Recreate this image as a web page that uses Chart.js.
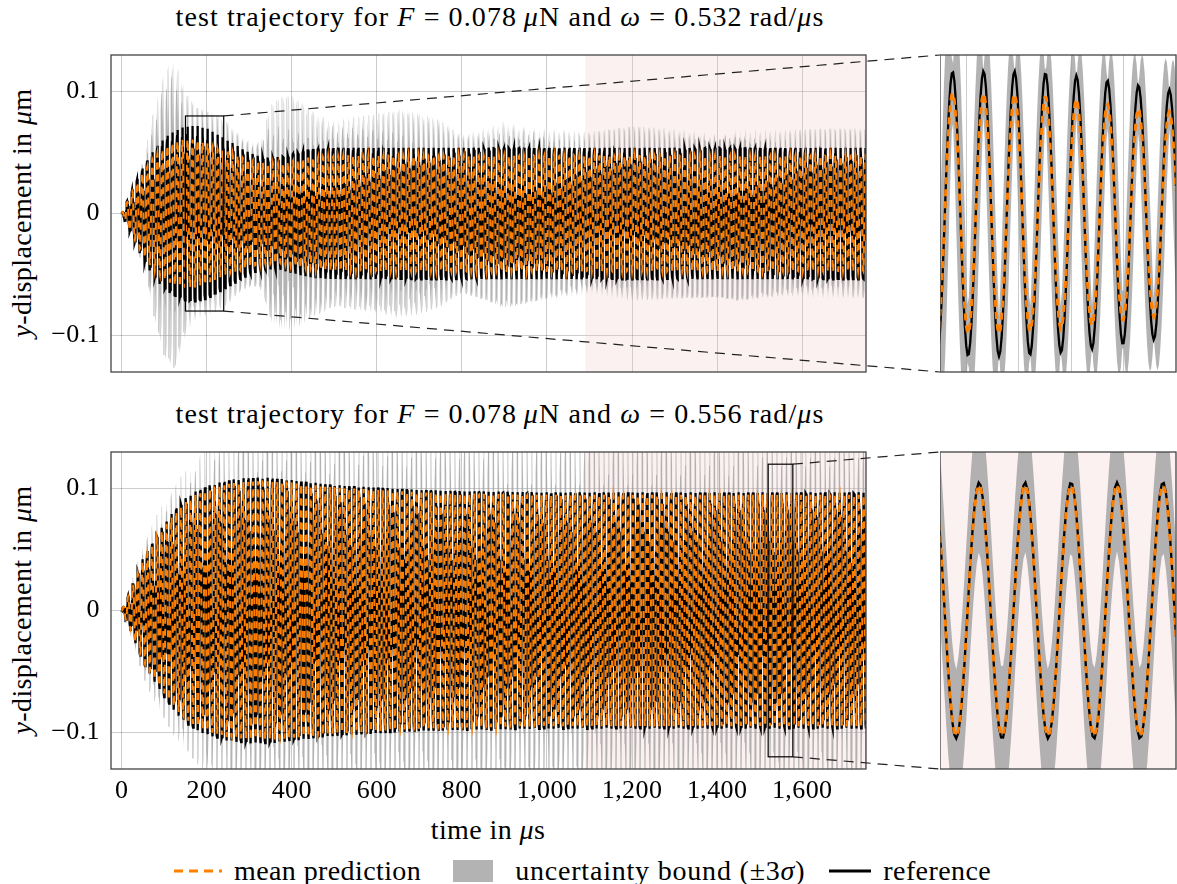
<!DOCTYPE html>
<html>
<head>
<meta charset="utf-8">
<script src="https://cdn.jsdelivr.net/npm/chart.js@4.4.0/dist/chart.umd.min.js"></script>
<style>
  body { margin: 0; background: #fff; }
  #fig { position: relative; width: 1177px; height: 884px; font-family: 'Liberation Serif', serif; font-size: 28px; color: #000; letter-spacing: 0.4px; }
  #fig canvas { position: absolute; }
  .txt { position: absolute; white-space: nowrap; line-height: 30px; }
  .ttl { left: 0; width: 1000px; text-align: center; letter-spacing: 1.1px; }
  .ylab { left: 22px; transform: translate(-50%, -50%) rotate(-90deg); }
  .legend { position: absolute; left: 172px; top: 856px; display: flex; align-items: center; white-space: nowrap; line-height: 30px; }
  .legend svg { display: block; }
</style>
</head>
<body>
<div id="fig">
  <div class="txt ttl" style="top:2px">test trajectory for <i>F</i> = 0.078&#8201;<i>μ</i>N and <i>ω</i> = 0.532&#8201;rad/<i>μ</i>s</div>
  <div class="txt ttl" style="top:399px">test trajectory for <i>F</i> = 0.078&#8201;<i>μ</i>N and <i>ω</i> = 0.556&#8201;rad/<i>μ</i>s</div>
  <div class="txt ylab" style="top:213px"><i>y</i>-displacement in <i>μ</i>m</div>
  <div class="txt ylab" style="top:610px"><i>y</i>-displacement in <i>μ</i>m</div>
  <div class="txt" style="left:488px; top:815px; transform:translateX(-50%)">time in <i>μ</i>s</div>

  <canvas id="topMain" width="940" height="380" style="left:0;top:0"></canvas>
  <canvas id="topZoom" width="237" height="380" style="left:940px;top:0"></canvas>
  <canvas id="botMain" width="940" height="410" style="left:0;top:400px"></canvas>
  <canvas id="botZoom" width="237" height="410" style="left:940px;top:400px"></canvas>

  <div class="legend">
    <svg width="50" height="10"><line x1="2" y1="5" x2="50" y2="5" stroke="#ff8000" stroke-width="3" stroke-dasharray="9,6"/></svg>
    <span style="margin-left:12px">mean prediction</span>
    <svg width="40" height="22" style="margin-left:32px"><rect x="0" y="0" width="40" height="22" fill="#b3b3b3"/></svg>
    <span style="margin-left:22px; letter-spacing:0.8px">uncertainty bound (±3<i>σ</i>)</span>
    <svg width="42" height="10" style="margin-left:24px"><line x1="0" y1="5" x2="42" y2="5" stroke="#000" stroke-width="3"/></svg>
    <span style="margin-left:12px">reference</span>
  </div>
</div>

<script>
// ---- data ----
const xTicks = [0, 200, 400, 600, 800, 1000, 1200, 1400, 1600];
const yTicks = [-0.1, 0, 0.1];
const zoomGridTop = [160, 180, 200, 220];
const shadeStart = 1090; // shaded test region starts here (µs)

// drive frequencies from the titles (rad/µs) and carrier phase
const omegaTop = 0.532;
const omegaBot = 0.556;
const phaseTop = 0.90;
const phaseBot = -0.66;

// envelopes for the upper panel (µm)
const knotsTop = [0, 25, 50, 75, 100, 125, 150, 175, 200, 225, 250, 275, 300, 325, 350, 375, 400, 425, 450, 500,
  550, 600, 650, 700, 750, 800, 850, 900, 1000, 1100, 1200, 1300, 1400, 1450, 1550, 1650, 1750];
const refAmpTop = [0, 0.020, 0.038, 0.052, 0.062, 0.068, 0.0715, 0.0722, 0.070, 0.065, 0.060, 0.055, 0.050, 0.047, 0.046, 0.0465, 0.049, 0.051, 0.053, 0.054,
  0.054, 0.054, 0.054, 0.054, 0.054, 0.054, 0.054, 0.054, 0.054, 0.054, 0.054, 0.054, 0.054, 0.054, 0.054, 0.054, 0.054];
const meanAmpTop = [0, 0.018, 0.034, 0.046, 0.054, 0.059, 0.061, 0.0605, 0.058, 0.053, 0.050, 0.047, 0.044, 0.042, 0.041, 0.041, 0.043, 0.045, 0.046, 0.047,
  0.0475, 0.0475, 0.0475, 0.0475, 0.0475, 0.0475, 0.0475, 0.0475, 0.0475, 0.0475, 0.0475, 0.0475, 0.0475, 0.0475, 0.0475, 0.0475, 0.0475];
// 3 sigma where the mean crosses zero / at the mean's peaks
const crossBandTop = [0, 0.005, 0.017, 0.060, 0.095, 0.105, 0.070, 0.052, 0.050, 0.050, 0.045, 0.034, 0.028, 0.031, 0.070, 0.078, 0.078, 0.070, 0.062, 0.050,
  0.054, 0.057, 0.062, 0.058, 0.050, 0.032, 0.041, 0.051, 0.041, 0.035, 0.043, 0.040, 0.038, 0.043, 0.038, 0.040, 0.040];
const peakBandTop = [0, 0.002, 0.005, 0.008, 0.008, 0.008, 0.008, 0.008, 0.008, 0.008, 0.008, 0.008, 0.008, 0.008, 0.008, 0.008, 0.008, 0.008, 0.008, 0.008,
  0.008, 0.008, 0.008, 0.008, 0.008, 0.008, 0.008, 0.008, 0.008, 0.008, 0.008, 0.008, 0.008, 0.008, 0.008, 0.008, 0.008];

// envelopes for the lower panel (µm)
const knotsBot = [0, 25, 50, 75, 100, 125, 150, 175, 200, 250, 300, 350, 400, 450, 500, 600, 700, 800, 1000, 1200, 1400, 1600, 1750];
const refAmpBot = [0, 0.020, 0.043, 0.057, 0.071, 0.083, 0.092, 0.098, 0.102, 0.107, 0.109, 0.109, 0.107, 0.105, 0.103, 0.101, 0.099, 0.098, 0.097, 0.097, 0.097, 0.097, 0.097];
const meanAmpBot = [0, 0.019, 0.041, 0.055, 0.068, 0.080, 0.089, 0.095, 0.099, 0.104, 0.106, 0.106, 0.105, 0.103, 0.101, 0.099, 0.097, 0.096, 0.095, 0.095, 0.095, 0.095, 0.095];
const crossBandBot = [0, 0.002, 0.004, 0.006, 0.008, 0.009, 0.010, 0.011, 0.012, 0.014, 0.016, 0.016, 0.016, 0.016, 0.016, 0.016, 0.016, 0.016, 0.016, 0.016, 0.016, 0.016, 0.016];
const peakBandBot = [0, 0.006, 0.013, 0.018, 0.021, 0.023, 0.025, 0.029, 0.035, 0.042, 0.048, 0.050, 0.050, 0.050, 0.050, 0.050, 0.050, 0.050, 0.050, 0.050, 0.050, 0.050, 0.050];

// zoom windows [t0, t1, yMin, yMax]
const zoomTop = [150, 240, -0.08, 0.08];
const zoomBot = [1520, 1578, -0.12, 0.12];

const dt = 0.5;
const tEnd = 1750;

// ---- helpers ----
function envAt(knots, vals, t) {
    let i = 1;
    while (i < knots.length - 1 && knots[i] < t) i++;
    const f = (t - knots[i - 1]) / (knots[i] - knots[i - 1]);
    return vals[i - 1] + f * (vals[i] - vals[i - 1]);
}

function buildSeries(knots, refAmp, meanAmp, crossBand, peakBand, omega, phase) {
    const ref = [], mean = [], upper = [], lower = [];
    for (let t = 0; t <= tEnd + 1e-9; t += dt) {
        const th = omega * t + phase;
        const s = Math.sin(th);
        const m = envAt(knots, meanAmp, t) * s;
        const band = envAt(knots, crossBand, t) * Math.abs(Math.cos(th)) + envAt(knots, peakBand, t);
        ref.push({ x: t, y: envAt(knots, refAmp, t) * s });
        mean.push({ x: t, y: m });
        upper.push({ x: t, y: m + band });
        lower.push({ x: t, y: m - band });
    }
    return { ref, mean, upper, lower };
}

const shadeColor = 'rgba(245, 200, 200, 0.25)';
const gridColor = 'rgba(0, 0, 0, 0.2)';

// background shade, frame and zoom box with connector lines
const framePlugin = {
    id: 'frame',
    beforeDatasetsDraw(chart) {
        const { ctx, chartArea: a, scales: { x } } = chart;
        const x0 = Math.max(a.left, x.getPixelForValue(shadeStart));
        if (x0 < a.right) {
            ctx.save();
            ctx.fillStyle = shadeColor;
            ctx.fillRect(x0, a.top, a.right - x0, a.bottom - a.top);
            ctx.restore();
        }
    },
    afterDraw(chart, args, opts) {
        const { ctx, chartArea: a, scales: { x, y } } = chart;
        ctx.save();
        ctx.strokeStyle = '#444';
        ctx.lineWidth = 1.3;
        ctx.strokeRect(a.left, a.top, a.right - a.left, a.bottom - a.top);
        if (opts.box) {
            const [t0, t1, y0, y1] = opts.box;
            const px0 = x.getPixelForValue(t0), px1 = x.getPixelForValue(t1);
            const pyTop = y.getPixelForValue(y1), pyBot = y.getPixelForValue(y0);
            ctx.strokeStyle = '#000';
            ctx.lineWidth = 1.2;
            ctx.strokeRect(px0, pyTop, px1 - px0, pyBot - pyTop);
            ctx.strokeStyle = '#222';
            ctx.setLineDash([10, 7]);
            ctx.beginPath();
            ctx.moveTo(px1, pyTop);
            ctx.lineTo(chart.width, a.top);
            ctx.moveTo(px1, pyBot);
            ctx.lineTo(chart.width, a.bottom);
            ctx.stroke();
        }
        ctx.restore();
    }
};

Chart.defaults.font.family = "'Liberation Serif', serif";
Chart.defaults.font.size = 26;
Chart.defaults.color = '#000';

function makeDatasets(series, meanWidth) {
    return [
        { label: 'mean prediction', data: series.mean, borderColor: '#ff8000', borderWidth: meanWidth, borderDash: [7, 5], fill: false },
        { label: 'reference', data: series.ref, borderColor: '#000', borderWidth: 2.3, fill: false },
        { label: 'uncertainty bound (±3σ)', data: series.upper, borderWidth: 0, borderColor: 'rgba(0,0,0,0)',
          backgroundColor: 'rgba(160,160,160,0.8)', fill: '+1' },
        { label: 'lower bound', data: series.lower, borderWidth: 0, borderColor: 'rgba(0,0,0,0)', fill: false }
    ];
}

function makeChart(id, series, cfg) {
    return new Chart(document.getElementById(id), {
        type: 'line',
        data: { datasets: makeDatasets(series, cfg.meanWidth) },
        plugins: [framePlugin],
        options: {
            responsive: false,
            animation: false,
            parsing: false,
            normalized: true,
            events: [],
            elements: { point: { radius: 0 }, line: { tension: 0 } },
            layout: { padding: cfg.padding },
            plugins: {
                legend: { display: false },
                tooltip: { enabled: false },
                frame: { box: cfg.box || null }
            },
            scales: {
                x: {
                    type: 'linear',
                    min: cfg.xMin, max: cfg.xMax,
                    border: { display: false },
                    grid: { display: cfg.xGrid !== null, color: gridColor, drawTicks: false },
                    afterBuildTicks: s => { s.ticks = (cfg.xGrid || []).map(v => ({ value: v })); },
                    afterFit: s => { s.height = cfg.xHeight; s.paddingLeft = 0; s.paddingRight = 0; },
                    ticks: {
                        display: !!cfg.xLabels,
                        padding: 7,
                        maxRotation: 0,
                        autoSkip: false,
                        callback: v => v.toLocaleString('en-US')
                    }
                },
                y: {
                    type: 'linear',
                    display: cfg.yShow,
                    min: cfg.yMin, max: cfg.yMax,
                    border: { display: false },
                    grid: { color: gridColor, drawTicks: false },
                    afterBuildTicks: s => { s.ticks = yTicks.map(v => ({ value: v })); },
                    afterFit: s => {
                        if (cfg.yShow) s.width = 111;
                        s.paddingTop = 0;
                        s.paddingBottom = 0;
                    },
                    ticks: {
                        padding: 11,
                        callback: v => v === 0 ? '0' : (v < 0 ? '\u2212' : '') + Math.abs(v).toString()
                    }
                }
            }
        }
    });
}

const seriesTop = buildSeries(knotsTop, refAmpTop, meanAmpTop, crossBandTop, peakBandTop, omegaTop, phaseTop);
const seriesTopZ = buildSeries(knotsTop, refAmpTop, meanAmpTop, crossBandTop, peakBandTop, omegaTop, phaseTop);
const seriesBot = buildSeries(knotsBot, refAmpBot, meanAmpBot, crossBandBot, peakBandBot, omegaBot, phaseBot);
const seriesBotZ = buildSeries(knotsBot, refAmpBot, meanAmpBot, crossBandBot, peakBandBot, omegaBot, phaseBot);

makeChart('topMain', seriesTop, {
    padding: { left: 0, right: 74, top: 55, bottom: 8 },
    xMin: -25, xMax: 1750, xGrid: xTicks, xHeight: 0, xLabels: false,
    yShow: true, yMin: -0.13, yMax: 0.13, box: zoomTop, meanWidth: 2.0
});
makeChart('topZoom', seriesTopZ, {
    padding: { left: 0, right: 1, top: 55, bottom: 8 },
    xMin: zoomTop[0], xMax: zoomTop[1], xGrid: zoomGridTop, xHeight: 0, xLabels: false,
    yShow: false, yMin: zoomTop[2], yMax: zoomTop[3], meanWidth: 3
});
makeChart('botMain', seriesBot, {
    padding: { left: 0, right: 74, top: 52, bottom: 0 },
    xMin: -25, xMax: 1750, xGrid: xTicks, xHeight: 41, xLabels: true,
    yShow: true, yMin: -0.13, yMax: 0.13, box: zoomBot, meanWidth: 2.0
});
makeChart('botZoom', seriesBotZ, {
    padding: { left: 0, right: 1, top: 52, bottom: 41 },
    xMin: zoomBot[0], xMax: zoomBot[1], xGrid: null, xHeight: 0, xLabels: false,
    yShow: false, yMin: zoomBot[2], yMax: zoomBot[3], meanWidth: 3
});
</script>
</body>
</html>
